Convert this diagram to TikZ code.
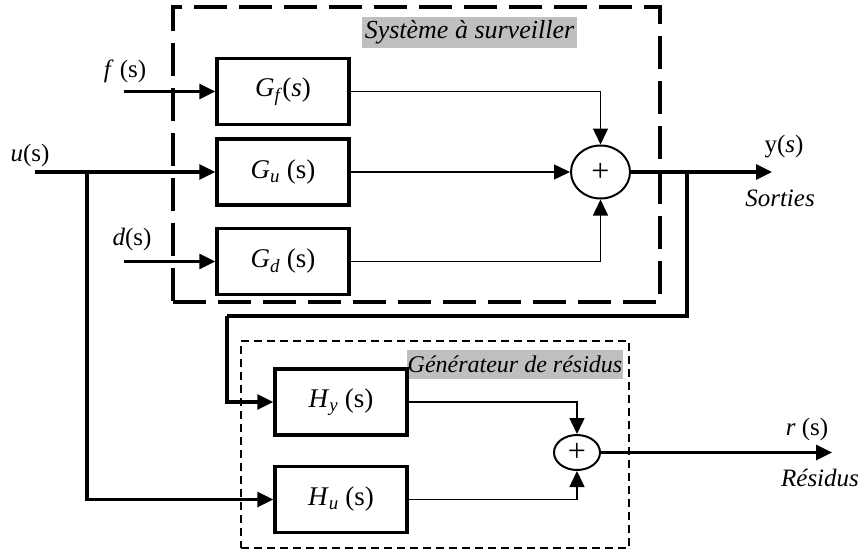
\documentclass[tikz,border=0pt]{standalone}
\usepackage{fontspec}
\setmainfont{Liberation Serif}
\usetikzlibrary{shapes.geometric, arrows.meta, positioning}

\newcommand{\tfn}[2]{\textit{#1}\textsubscript{\textit{#2}}}

\tikzset{
  block/.style={draw, line width=3.5pt, minimum width=132pt, minimum height=66pt, inner sep=0pt, font=\fontsize{27}{30}\selectfont},
  sum/.style={draw, ellipse, line width=2pt, inner sep=0pt, font=\fontsize{32}{34}\selectfont},
  sysbox/.style={draw, line width=3.3pt, dash pattern=on 33pt off 12pt, minimum width=487pt, minimum height=295pt},
  genbox/.style={draw, line width=1.7pt, dash pattern=on 8pt off 5pt, minimum width=388pt, minimum height=207pt},
  titre/.style={fill=black!25, inner sep=0pt, font=\fontsize{26}{30}\selectfont},
  sig/.style={line width=3.3pt, -{Triangle[length=16pt,width=15pt]}},
  wire/.style={line width=1.5pt, -{Triangle[length=16pt,width=15pt]}},
  trunk/.style={line width=3.3pt}
}

\begin{document}
\begin{tikzpicture}[x=1pt, y=-1pt, on grid, font=\fontsize{25}{28}\selectfont]
\useasboundingbox (0,0) rectangle (859,551);

% systeme a surveiller
\node[sysbox] (sys) at (416.5,154.5) {};
\node[titre, minimum width=215pt, minimum height=31pt] (systitle) at (469.5,32.5) {\textit{Système à surveiller}};
\node[block] (Gf) at (283,91.5) {\tfn{G}{f}(\textit{s})};
\node[block] (Gu) [below=80.5pt of Gf] {\tfn{G}{u} (s)};
\node[block] (Gd) [below=89.5pt of Gu] {\tfn{G}{d} (s)};
\node[sum, minimum width=59pt, minimum height=53pt] (S1) at (600.5,172) {+};

% generateur de residus
\node[genbox] (gen) at (435,444.5) {};
\node[titre, minimum width=216pt, minimum height=29pt, font=\fontsize{24}{28}\selectfont] (gentitle) at (515,364.5) {\textit{Générateur de résidus}};
\node[block] (Hy) at (341,402) {\tfn{H}{y} (s)};
\node[block] (Hu) [below=97.5pt of Hy] {\tfn{H}{u} (s)};
\node[sum, minimum width=46pt, minimum height=35pt] (S2) at (577,452.5) {+};

% points libres
\coordinate (fin) at (124,91.5);
\coordinate (din) at (124,261.5);
\coordinate (uin) at (35,172);
\coordinate (ubr) at (87,172);
\coordinate (ybr) at (687,172);
\coordinate (yout) at (772,172);
\coordinate (ycor) at (227,316);
\coordinate (rout) at (832,452.5);

% signaux
\node (flab) at (125,71) {\textit{f} (s)};
\node (ulab) at (30,155) {\textit{u}(s)};
\node (dlab) at (132,239) {\textit{d}(s)};
\node (ylab) at (784,147) {y(\textit{s})};
\node (sortlab) at (780,198) {\textit{Sorties}};
\node (rlab) at (807,429) {\textit{r} (s)};
\node (reslab) at (820,478) {\textit{Résidus}};

\draw[sig] (fin) -- (Gf.west);
\draw[sig] (din) -- (Gd.west);
\draw[sig] (uin) -- (Gu.west);
\draw[sig] (ubr) |- (Hu.west);
\draw[wire] (Gf.east) -| (S1.north);
\draw[wire] (Gu.east) -- (S1.west);
\draw[wire] (Gd.east) -| (S1.south);
\draw[sig] (S1.east) -- (yout);
\draw[trunk] (ybr) |- (ycor);
\draw[sig] (ycor) |- (Hy.west);
\draw[wire] (Hy.east) -| (S2.north);
\draw[wire] (Hu.east) -| (S2.south);
\draw[sig] (S2.east) -- (rout);
\end{tikzpicture}
\end{document}
